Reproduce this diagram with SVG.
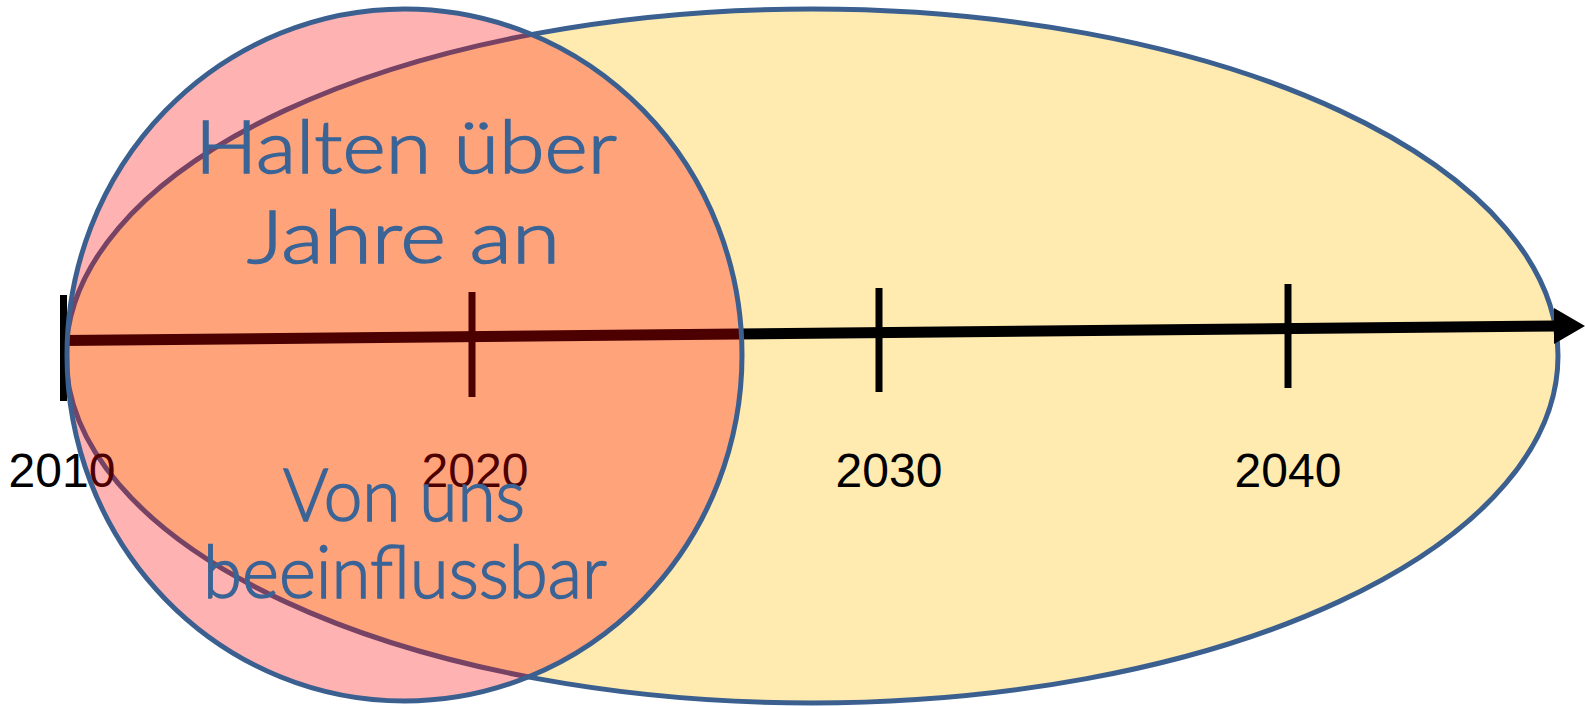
<svg xmlns="http://www.w3.org/2000/svg" width="1585" height="706" viewBox="0 0 1585 706">
  <style>
    .outline { stroke: #3B6090; stroke-width: 5; }
    .year { font-family: "Liberation Sans", Arial, sans-serif; font-size: 48px; fill: #000; text-anchor: middle; }
    .big { font-family: Lato, "DejaVu Sans", sans-serif; font-size: 72px; font-weight: 300; fill: #3A6496; stroke: #3A6496; stroke-width: 1.5; }
    .tick { stroke: #000; stroke-width: 7; }
  </style>
  <rect width="1585" height="706" fill="#FFFFFF"/>
  <g id="ellipse-future">
    <ellipse cx="812" cy="356" rx="746" ry="347" fill="#FFEAB0" class="outline"/>
  </g>
  <g id="connectors">
    <line x1="63" y1="340.5" x2="1556" y2="326" stroke="#000" stroke-width="11"/>
    <polygon points="1554,308 1585,326 1554,344" fill="#000"/>
    <line class="tick" x1="63.5" y1="295" x2="63.5" y2="401"/>
    <line class="tick" x1="472" y1="292" x2="472" y2="397"/>
    <line class="tick" x1="879" y1="288" x2="879" y2="392"/>
    <line class="tick" x1="1288" y1="284" x2="1288" y2="388"/>
  </g>
  <g id="year-labels">
    <text class="year" x="62" y="487">2010</text>
    <text class="year" x="475" y="487">2020</text>
    <text class="year" x="889" y="487">2030</text>
    <text class="year" x="1288" y="487">2040</text>
  </g>
  <g id="circle-influence">
    <ellipse cx="404.5" cy="355" rx="337.5" ry="346" fill="#FF0000" fill-opacity="0.3" stroke="none"/>
    <ellipse cx="404.5" cy="355" rx="337.5" ry="346" fill="none" class="outline"/>
  </g>
  <g id="text-top">
    <text class="big" x="195" y="173" textLength="422" lengthAdjust="spacingAndGlyphs">Halten über</text>
    <text class="big" x="247" y="263" textLength="313" lengthAdjust="spacingAndGlyphs">Jahre an</text>
  </g>
  <g id="text-bottom">
    <text class="big" x="283" y="521" textLength="242" lengthAdjust="spacingAndGlyphs">Von uns</text>
    <text class="big" x="203" y="598" textLength="404" lengthAdjust="spacingAndGlyphs">beeinflussbar</text>
  </g>
</svg>
